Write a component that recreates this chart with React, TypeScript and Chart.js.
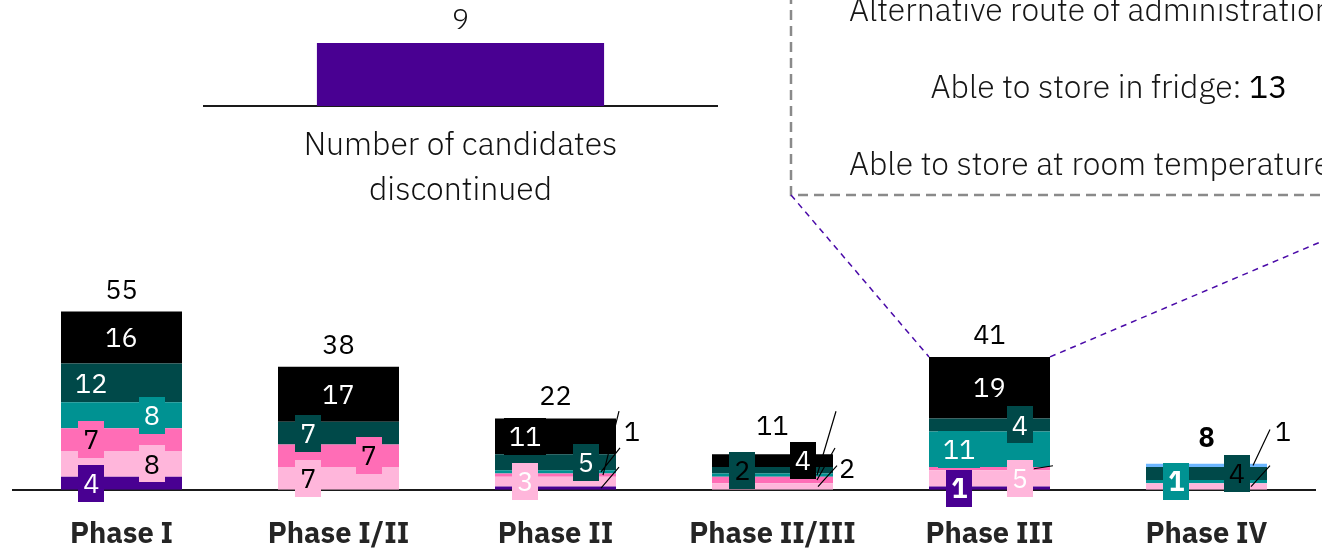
import React, { useEffect, useRef } from 'react';
import { Chart, registerables } from 'chart.js';

Chart.register(...registerables);

// ---------- data ----------
const phases = ['Phase I', 'Phase I/II', 'Phase II', 'Phase II/III', 'Phase III', 'Phase IV'];
const purpleVals = [4, 0, 1, 0, 1, 0];
const lightPinkVals = [8, 7, 3, 2, 5, 2];
const pinkVals = [7, 7, 1, 2, 1, 0];
const tealVals = [8, 0, 1, 1, 11, 1];
const darkTealVals = [12, 7, 5, 2, 4, 4];
const blackVals = [16, 17, 11, 4, 19, 0];
const lightBlueVals = [0, 0, 0, 0, 0, 1];

const discontinuedCategory = [''];
const discontinuedVals = [9];
const discontinuedCaption = ['Number of candidates', 'discontinued'];

const boxTextRoute = 'Alternative route of administration';
const boxTextFridge = 'Able to store in fridge: ';
const fridgeCount = 13;
const boxTextRoom = 'Able to store at room temperature';

// ---------- styles / layout (not data) ----------
const SERIES = [purpleVals, lightPinkVals, pinkVals, tealVals, darkTealVals, blackVals, lightBlueVals];
const COLORS = ['#490092', '#ffb6db', '#ff6db6', '#009292', '#004949', '#000000', '#6db6ff'];
// position (L/C/R) : text colour (w/k) + optional b (bold)
const LABEL_STYLE = [
  ['L:w', '', '', '', 'L:wb', ''],
  ['R:k', 'L:k', 'L:w', '', 'R:w', ''],
  ['L:k', 'R:k', '', '', '', ''],
  ['R:w', '', '', '', 'L:w', 'L:wb'],
  ['L:w', 'L:w', 'R:w', 'L:k', 'R:w', 'R:k'],
  ['C:w', 'C:w', 'L:w', 'R:w', 'C:w', ''],
  ['', '', '', '', '', ''],
];
const LEADERS = [
  { phase: 2, ds: 3, ex: -15, sx: 4, sy: -24 },
  { phase: 2, ds: 2, ex: -13, sx: 3, sy: -64 },
  { phase: 2, ds: 0, ex: -15, sx: 3, sy: -21 },
  { phase: 3, ds: 3, ex: -16, sx: 3, sy: -64 },
  { phase: 3, ds: 2, ex: -16, sx: 2, sy: -32 },
  { phase: 3, ds: 1, ex: -15, sx: 4, sy: -21 },
  { phase: 4, ds: 2, ex: -16, sx: 3, sy: -3 },
  { phase: 5, ds: 6, ex: -14, sx: 3, sy: -36 },
  { phase: 5, ds: 1, ex: -16, sx: 3, sy: -21 },
];
const LEADER_LABELS = [
  { phase: 2, ds: 0, dx: 16, dy: -59 },
  { phase: 3, ds: 1, dx: 14, dy: -22 },
  { phase: 5, ds: 6, dx: 16, dy: -59 },
];
const TOTAL_OFFSET = [13, 13, 13, 19, 13, 17];
const TOTAL_BOLD = [false, false, false, false, false, true];
const ZOOM_PHASE = 4;

const FAMILY = '"IBM Plex Sans", "Noto Sans", sans-serif';
const f = (size: number, weight = 400) => `${weight} ${size}px ${FAMILY}`;
const BAR_PCT = 121 / 217;
const TEXT_SIZE = 32;

const mainPlugin = {
  id: 'mainOverlay',
  afterDatasetsDraw(chart: any) {
    const ctx = chart.ctx as CanvasRenderingContext2D;
    const yScale = chart.scales.y;
    const metas = SERIES.map((_, i) => chart.getDatasetMeta(i));
    const geom = (j: number) => {
      const el = metas[0].data[j];
      const total = SERIES.reduce((s, arr) => s + arr[j], 0);
      return {
        left: el.x - el.width / 2,
        right: el.x + el.width / 2,
        cx: el.x,
        w: el.width,
        top: yScale.getPixelForValue(total),
        base: yScale.getPixelForValue(0),
        total,
      };
    };
    ctx.save();

    // dashed call-out box
    ctx.setLineDash([10, 6]);
    ctx.strokeStyle = '#8a8a8a';
    ctx.lineWidth = 2.5;
    ctx.strokeRect(791, -30, 640, 225);

    // purple connector lines to Phase III bar
    const g3 = geom(ZOOM_PHASE);
    ctx.setLineDash([6, 5]);
    ctx.strokeStyle = '#4a0aa8';
    ctx.lineWidth = 1.5;
    ctx.beginPath();
    ctx.moveTo(791, 195);
    ctx.lineTo(g3.left, g3.top);
    ctx.moveTo(g3.right, g3.top);
    ctx.lineTo(1431, 195);
    ctx.stroke();
    ctx.setLineDash([]);

    // box texts
    ctx.fillStyle = '#161616';
    ctx.textBaseline = 'alphabetic';
    ctx.textAlign = 'left';
    ctx.font = f(TEXT_SIZE, 300);
    ctx.fillText(boxTextRoute, 849, 21);
    ctx.fillText(boxTextRoom, 849, 175);
    const w1 = ctx.measureText(boxTextFridge).width;
    ctx.font = f(TEXT_SIZE, 400);
    const w2 = ctx.measureText(String(fridgeCount)).width;
    const startX = 1109 - (w1 + w2) / 2;
    ctx.font = f(TEXT_SIZE, 300);
    ctx.fillText(boxTextFridge, startX, 98);
    ctx.font = f(TEXT_SIZE, 400);
    ctx.fillStyle = '#000';
    ctx.fillText(String(fridgeCount), startX + w1, 98);

    // segment labels
    ctx.textAlign = 'center';
    for (let i = 0; i < SERIES.length; i++) {
      for (let j = 0; j < phases.length; j++) {
        const code = LABEL_STYLE[i][j];
        if (!code || !SERIES[i][j]) continue;
        const el = metas[i].data[j];
        const mid = (el.y + el.base) / 2;
        const l = el.x - el.width / 2;
        const [pos, st] = code.split(':');
        const cx = l + el.width * (pos === 'L' ? 0.25 : pos === 'C' ? 0.5 : 0.75);
        const text = String(SERIES[i][j]);
        ctx.font = f(27, st.includes('b') ? 700 : 400);
        const tw = ctx.measureText(text).width;
        ctx.fillStyle = COLORS[i];
        ctx.fillRect(Math.round(cx - tw / 2 - 5), Math.round(mid - 18.5), Math.round(tw + 10), 37);
        ctx.fillStyle = st[0] === 'w' ? '#ffffff' : '#000000';
        ctx.fillText(text, cx, mid + 9.7);
      }
    }

    // leader lines
    ctx.strokeStyle = '#000';
    ctx.lineWidth = 1.2;
    ctx.beginPath();
    for (const ld of LEADERS) {
      const el = metas[ld.ds].data[ld.phase];
      const mid = (el.y + el.base) / 2;
      const right = el.x + el.width / 2;
      ctx.moveTo(right + ld.sx, mid + ld.sy);
      ctx.lineTo(right + ld.ex, mid);
    }
    ctx.stroke();
    ctx.fillStyle = '#000';
    ctx.font = f(27, 400);
    for (const lb of LEADER_LABELS) {
      const g = geom(lb.phase);
      ctx.fillText(String(SERIES[lb.ds][lb.phase]), g.right + lb.dx, g.base + lb.dy + 9.7);
    }

    // totals
    for (let j = 0; j < phases.length; j++) {
      const g = geom(j);
      ctx.font = f(27, TOTAL_BOLD[j] ? 700 : 400);
      ctx.fillStyle = '#000';
      ctx.fillText(String(g.total), g.cx, g.top - TOTAL_OFFSET[j]);
    }
    ctx.restore();
  },
};

const insetPlugin = {
  id: 'insetOverlay',
  afterDatasetsDraw(chart: any) {
    const ctx = chart.ctx as CanvasRenderingContext2D;
    const el = chart.getDatasetMeta(0).data[0];
    ctx.save();
    ctx.textAlign = 'center';
    ctx.textBaseline = 'alphabetic';
    ctx.fillStyle = '#111';
    ctx.font = f(29, 300);
    ctx.fillText(String(discontinuedVals[0]), el.x, el.y - 14.5);
    const cx = (chart.chartArea.left + chart.chartArea.right) / 2;
    ctx.font = f(TEXT_SIZE, 300);
    ctx.fillText(discontinuedCaption[0], cx, 155);
    ctx.fillText(discontinuedCaption[1], cx, 200);
    ctx.restore();
  },
};

export default function App() {
  const mainRef = useRef<HTMLCanvasElement>(null);
  const insetRef = useRef<HTMLCanvasElement>(null);

  useEffect(() => {
    document.body.style.margin = '0';
    const names = ['purple', 'lightPink', 'pink', 'teal', 'darkTeal', 'black', 'lightBlue'];
    const main = new Chart(mainRef.current!, {
      type: 'bar',
      data: {
        labels: phases,
        datasets: SERIES.map((vals, i) => ({
          label: names[i],
          data: vals,
          backgroundColor: COLORS[i],
          borderWidth: 0,
          barPercentage: BAR_PCT,
          categoryPercentage: 1,
        })),
      },
      options: {
        responsive: false,
        animation: false,
        devicePixelRatio: 1,
        layout: { padding: { left: 13, right: 7, top: 36, bottom: -27.6 } },
        plugins: { legend: { display: false }, tooltip: { enabled: false } },
        scales: {
          x: {
            stacked: true,
            grid: { display: false, drawTicks: false },
            border: { display: true, color: '#1a1a1a', width: 2 },
            ticks: {
              autoSkip: false,
              maxRotation: 0,
              padding: 27,
              color: '#252525',
              font: { family: FAMILY, size: 29, weight: 'bold' as any },
            },
          },
          y: { stacked: true, display: false, min: 0, max: 140 },
        },
      },
      plugins: [mainPlugin],
    });

    const inset = new Chart(insetRef.current!, {
      type: 'bar',
      data: {
        labels: discontinuedCategory,
        datasets: [
          {
            label: 'discontinued',
            data: discontinuedVals,
            backgroundColor: '#490092',
            borderWidth: 0,
            barPercentage: BAR_PCT,
            categoryPercentage: 1,
          },
        ],
      },
      options: {
        responsive: false,
        animation: false,
        devicePixelRatio: 1,
        layout: { padding: { left: 0, right: 0, top: 22, bottom: 114 } },
        plugins: { legend: { display: false }, tooltip: { enabled: false } },
        scales: {
          x: {
            grid: { display: false, drawTicks: false },
            border: { display: true, color: '#1a1a1a', width: 2 },
            ticks: { display: false },
          },
          y: { display: false, min: 0, max: 12 },
        },
      },
      plugins: [insetPlugin],
    });

    return () => {
      main.destroy();
      inset.destroy();
    };
  }, []);

  return (
    <div style={{ position: 'fixed', left: 0, top: 0, width: 1322, height: 551, background: '#fff' }}>
      <canvas ref={mainRef} width={1322} height={551} style={{ position: 'absolute', left: 0, top: 0, width: 1322, height: 551 }} />
      <canvas ref={insetRef} width={515} height={220} style={{ position: 'absolute', left: 203, top: 0, width: 515, height: 220 }} />
    </div>
  );
}
